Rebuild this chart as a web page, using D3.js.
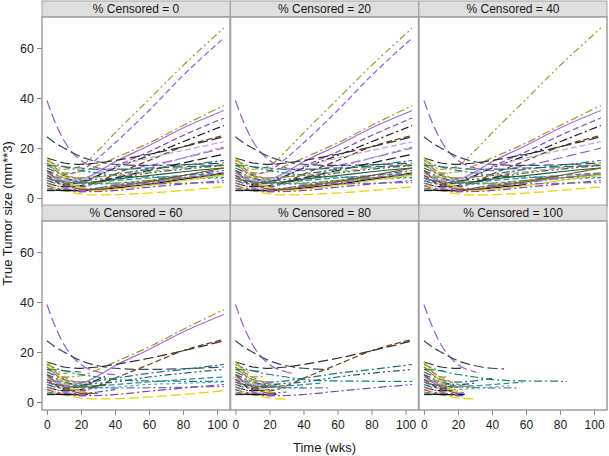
<!DOCTYPE html>
<html>
<head>
<meta charset="utf-8">
<script src="https://cdn.jsdelivr.net/npm/d3@7"></script>
<style>
  html, body { margin: 0; padding: 0; background: #fff; }
  svg { display: block; font-family: "Liberation Sans", Arial, sans-serif; }
</style>
</head>
<body>
<svg id="chart" width="609" height="456"></svg>
<script>
// ---------- data ----------
const panels = [0, 20, 40, 60, 80, 100];          // % censored
const times = [0, 5, 10, 20, 30, 40, 60, 80, 104]; // weeks
const xTicks = [0, 20, 40, 60, 80, 100];
const yTicks = [0, 20, 40, 60];

// true tumor size per subject at each time above
const sizes = [
  [16, 13, 11.5, 13, 19, 26, 39.5, 53, 68],
  [14, 11, 9.5, 11, 16, 22, 35, 49, 64],
  [39, 30, 23, 15, 12, 11, 13, 16, 20],
  [24.5, 22, 20, 16.5, 14.5, 13.5, 13, 13.3, 14],
  [13, 11.5, 10, 10.5, 13, 16, 22, 29, 37],
  [9, 8, 7, 7.5, 10.5, 14.5, 21, 28, 35],
  [8, 6.5, 5.5, 6, 9, 12.5, 18.5, 25, 32],
  [7, 6, 5.5, 6.5, 9, 12, 17, 22.5, 29],
  [9, 7, 5, 4.5, 6.5, 9.5, 15, 20.5, 25],
  [16, 15, 14, 13.5, 14, 15, 17.5, 20.5, 24.5],
  [5, 4, 3.5, 4, 6, 8, 12, 16, 20.5],
  [6, 5, 4.5, 5, 6.5, 8, 11, 14, 17.5],
  [12, 10.5, 9, 8, 8.5, 9.5, 11.5, 13, 15],
  [15, 13.5, 12.5, 11, 10, 9, 8.4, 8.3, 8.3],
  [11, 9.5, 8, 7, 7.5, 8, 10, 11.5, 13],
  [5, 4, 3.5, 2.5, 2.6, 3, 4.3, 5.6, 7],
  [6, 4, 3, 1.6, 1.2, 1.3, 2, 3, 4.5],
  [7, 6, 5.5, 5, 5.5, 6, 7, 7.5, 8],
  [10, 8.5, 7.5, 6.5, 6.5, 7, 8, 9, 10],
  [8, 7, 6.5, 6, 6.5, 7.5, 9, 10.5, 12],
  [4, 3.5, 3, 3, 4, 5, 6.5, 8, 9.5],
  [10, 9, 8.5, 8, 8.5, 9, 10.5, 12, 13.5],
  [3, 3, 3.2, 3.5, 4, 5, 7, 9, 11],
  [3.2, 3.1, 3, 3, 3.3, 4, 5.5, 7.5, 10],
  [16, 12, 8, 4, 3, 3.5, 5, 7, 9],
  [14, 12, 10, 7, 6, 6, 7, 8, 9.5],
  [13, 12.8, 12.5, 12, 11.5, 11.5, 12, 12.5, 13],
  [6, 5, 4, 3, 3.5, 4.5, 6, 8, 10],
  [11, 8, 6, 3.5, 3.5, 4.5, 6.5, 9, 12],
  [8, 7, 6.5, 6, 5.8, 5.6, 5.7, 5.9, 6.2],
  [10, 8, 7, 7.5, 10, 12.5, 16, 19, 22.5]
];

// last observed week for each subject in each panel (0,20,40,60,80,100 % censored)
const lastWeek = [
  [104, 104, 104, 12, 8, 6],
  [104, 104, 14, 10, 8, 6],
  [104, 104, 104, 40, 35, 31],
  [104, 104, 104, 104, 55, 47],
  [104, 104, 104, 104, 18, 14],
  [104, 104, 104, 104, 22, 16],
  [104, 104, 104, 30, 20, 15],
  [104, 104, 104, 34, 20, 18],
  [104, 104, 104, 104, 104, 20],
  [104, 104, 104, 104, 104, 22],
  [104, 104, 60, 25, 18, 12],
  [104, 104, 50, 30, 20, 15],
  [104, 104, 104, 104, 104, 40],
  [104, 104, 104, 104, 104, 84],
  [104, 104, 104, 104, 104, 30],
  [104, 104, 104, 104, 104, 25],
  [104, 104, 104, 104, 32, 29],
  [104, 104, 104, 104, 40, 50],
  [104, 104, 104, 104, 50, 58],
  [104, 104, 104, 35, 25, 20],
  [104, 104, 104, 20, 15, 12],
  [104, 104, 104, 25, 20, 15],
  [104, 104, 80, 40, 30, 25],
  [104, 104, 60, 24, 24, 24],
  [104, 104, 104, 25, 22, 20],
  [104, 104, 104, 30, 30, 30],
  [104, 104, 104, 20, 15, 12],
  [104, 104, 104, 30, 25, 20],
  [104, 104, 104, 28, 24, 20],
  [104, 104, 104, 104, 56, 56],
  [104, 104, 104, 18, 15, 10]
];

// ---------- styles ----------
const lineColors = [
  "#a89a3a", "#9a60c8", "#9a60c8", "#3c4a60", "#b09030", "#a070d8", "#8a50b8", "#202020",
  "#7a4018", "#303030", "#b890e0", "#181818", "#1f6f7f", "#1a8070", "#2a5a6a", "#8040c0",
  "#e8d000", "#5aa8c8", "#2f8f8f", "#1f5a30", "#5a9a30", "#c09050", "#4060a0", "#101010",
  "#d8c820", "#9a9030", "#207070", "#9a60c8", "#8a5020", "#6a7a8a", "#c0a0e8"
];
const dashes = {
  solid: null, dash: "6,3", longdash: "10,4", shortdash: "3,3",
  dashdot: "8,3,2,3", dashdotdot: "7,3,2,3,2,3"
};
const lineDash = [
  "dashdotdot", "dash", "longdash", "longdash", "dashdot", "solid", "dash", "dashdot",
  "dash", "longdash", "shortdash", "longdash", "dashdot", "dashdot", "dashdotdot", "dashdot",
  "longdash", "shortdash", "dash", "solid", "dash", "dash", "dashdot", "solid",
  "solid", "dash", "longdash", "dashdot", "solid", "dashdot", "dash"
];

// ---------- layout ----------
const svg = d3.select("#chart");
const colX = [42, 230.5, 419];
const cellW = 188;
const rowHeaderY = [1, 205];
const headerH = 16;
const plotH = 189;
const frame = "#a4a4a4";

const x = d3.scaleLinear().domain([-2.9, 107.6]).range([0, cellW]);
const y = d3.scaleLinear().domain([-3.2, 72.4]).range([plotH, 0]);

const line = d3.line()
  .x(d => x(d.t))
  .y(d => y(d.v))
  .curve(d3.curveMonotoneX);

const defs = svg.append("defs");

panels.forEach((p, pi) => {
  const col = pi % 3, row = Math.floor(pi / 3);
  const gx = colX[col];
  const hy = rowHeaderY[row];
  const py = hy + headerH;

  // header
  svg.append("rect")
    .attr("x", gx).attr("y", hy).attr("width", cellW).attr("height", headerH)
    .attr("fill", "#dedede").attr("stroke", frame).attr("stroke-width", 1);
  svg.append("text")
    .attr("x", gx + cellW / 2).attr("y", hy + 12)
    .attr("text-anchor", "middle").attr("font-size", 12).attr("fill", "#1a1a1a")
    .text("% Censored = " + p);

  const g = svg.append("g").attr("transform", `translate(${gx},${py})`);
  g.append("rect").attr("width", cellW).attr("height", plotH).attr("fill", "#fff");

  const lines = g.append("g");
  sizes.forEach((vals, si) => {
    const id = `c${pi}_${si}`;
    defs.append("clipPath").attr("id", id)
      .append("rect")
      .attr("x", 0).attr("y", 0)
      .attr("width", x(lastWeek[si][pi]))
      .attr("height", plotH);
    const pts = times.map((t, i) => ({ t, v: vals[i] }));
    lines.append("path")
      .attr("d", line(pts))
      .attr("fill", "none")
      .attr("stroke", lineColors[si])
      .attr("stroke-width", 1.25)
      .attr("stroke-dasharray", dashes[lineDash[si]])
      .attr("clip-path", `url(#${id})`);
  });

  g.append("rect").attr("width", cellW).attr("height", plotH)
    .attr("fill", "none").attr("stroke", frame).attr("stroke-width", 1.6);

  // y axis on first column
  if (col === 0) {
    const ya = g.append("g").call(d3.axisLeft(y).tickValues(yTicks).tickSize(5).tickPadding(3));
    ya.select(".domain").remove();
    ya.selectAll(".tick line").attr("stroke", "#888");
    ya.selectAll(".tick text").attr("font-size", 12.5).attr("fill", "#1a1a1a")
      .attr("font-family", "Liberation Sans, Arial, sans-serif");
  }
  // x axis on bottom row
  if (row === 1) {
    const xa = g.append("g").attr("transform", `translate(0,${plotH})`)
      .call(d3.axisBottom(x).tickValues(xTicks).tickSize(5).tickPadding(5));
    xa.select(".domain").remove();
    xa.selectAll(".tick line").attr("stroke", "#888");
    xa.selectAll(".tick text").attr("font-size", 12).attr("fill", "#1a1a1a")
      .attr("font-family", "Liberation Sans, Arial, sans-serif");
  }
});

// axis titles
svg.append("text")
  .attr("x", colX[1] + cellW / 2).attr("y", 452)
  .attr("text-anchor", "middle").attr("font-size", 13).attr("fill", "#1a1a1a")
  .text("Time (wks)");
svg.append("text")
  .attr("transform", `translate(12,${(17 + 410) / 2}) rotate(-90)`)
  .attr("text-anchor", "middle").attr("font-size", 13).attr("fill", "#1a1a1a")
  .text("True Tumor size (mm**3)");
</script>
</body>
</html>
